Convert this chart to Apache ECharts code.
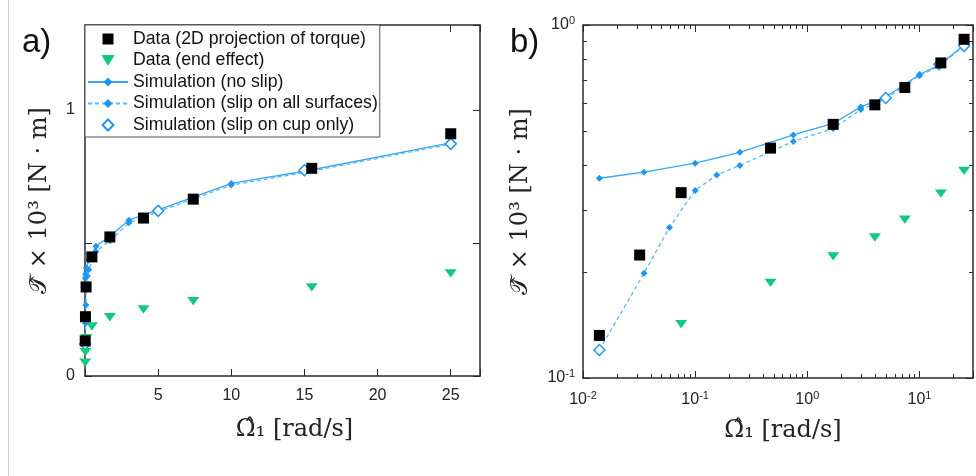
<!DOCTYPE html>
<html><head><meta charset="utf-8">
<script src="https://cdn.jsdelivr.net/npm/echarts@6/dist/echarts.min.js"></script>
<style>html,body{margin:0;padding:0;background:#fff}#c{width:976px;height:476px}</style>
</head><body><div id="c"></div>
<script>
// ---- data ----
const seriesNames = ['Data (2D projection of torque)', 'Data (end effect)', 'Simulation (no slip)', 'Simulation (slip on all surfaces)', 'Simulation (slip on cup only)'];
const dataX = [0.014, 0.032, 0.075, 0.47, 1.7, 4.0, 7.4, 15.5, 25];
const dataTorque = [0.132, 0.223, 0.335, 0.448, 0.523, 0.594, 0.665, 0.781, 0.911];
const endX = [0.014, 0.032, 0.075, 0.47, 1.7, 4.0, 7.4, 15.5, 25];
const endTorque = [0.05, 0.09, 0.142, 0.186, 0.221, 0.25, 0.281, 0.333, 0.386];
const noSlipX = [0.014, 0.035, 0.1, 0.25, 0.75, 1.7, 3, 5, 10, 15, 25];
const noSlipTorque = [0.368, 0.383, 0.406, 0.436, 0.488, 0.526, 0.586, 0.625, 0.724, 0.77, 0.877];
const slipAllX = [0.014, 0.035, 0.059, 0.1, 0.156, 0.25, 0.75, 1.7, 3, 5, 10, 15, 25];
const slipAllTorque = [0.12, 0.198, 0.267, 0.34, 0.376, 0.40, 0.468, 0.509, 0.576, 0.618, 0.718, 0.765, 0.872];
const cupX = [0.014, 5, 15, 25];
const cupTorque = [0.12, 0.621, 0.774, 0.873];
// tick labels
const xLabelsA = [5, 10, 15, 20, 25];
const yLabelsA = [0, 1];
const xExpB = [-2, -1, 0, 1];
const yExpB = [-1, 0];
const minorMantissa = [2, 3, 4, 5, 6, 7, 8, 9];

const zip = (xs, ys) => xs.map((x, i) => [x, ys[i]]);

const C_AXIS = '#2a2a2a';
const C_LINE = '#37a6f5';
const C_DASH = '#5bb9f8';
const C_MARK = '#1f97f0';
const C_GREEN = '#14c882';
const TRI = 'path://M0,0 L12,0 L6,10 Z';
const SQUARE = 'path://M0,0 L10,0 L10,10 L0,10 Z';
const DIAMOND = 'path://M5,0 L10,5 L5,10 L0,5 Z';

const tickFont = {fontFamily: 'Liberation Sans, Arial, sans-serif', fontSize: 16, color: '#222'};
const titleFont = {fontFamily: 'DejaVu Serif, Liberation Serif, serif', fontSize: 24, color: '#222'};

function logLabel(exps) {
  return function (v) {
    const l = Math.log10(v);
    const e = Math.round(l);
    if (Math.abs(l - e) > 1e-6 || exps.indexOf(e) < 0) return '';
    return '{b|10}{s|' + e + '}';
  };
}
const richLog = {
  b: {fontFamily: 'Liberation Sans, Arial, sans-serif', fontSize: 16, color: '#222', lineHeight: 20},
  s: {fontFamily: 'Liberation Sans, Arial, sans-serif', fontSize: 11, color: '#222', lineHeight: 11, verticalAlign: 'top'}
};

function frameAxis(base) {
  return Object.assign({
    axisLine: {show: true, onZero: false, lineStyle: {color: C_AXIS, width: 1.5}},
    axisTick: {show: true, inside: true, length: 7, lineStyle: {color: C_AXIS, width: 1}},
    splitLine: {show: false},
  }, base);
}

const minorXB = [];
xExpB.forEach(d => minorMantissa.forEach(m => { const v = m * Math.pow(10, d); if (v < 29.9) minorXB.push(v); }));
const minorYB = [];
yExpB.slice(0, 1).forEach(d => minorMantissa.forEach(m => minorYB.push(m * Math.pow(10, d))));

function minorTicks(kind) {
  return function (params, api) {
    const cs = params.coordSys;
    const p = api.coord([api.value(0), api.value(1)]);
    const st = {stroke: C_AXIS, lineWidth: 1};
    if (kind === 'x') {
      const x = Math.round(p[0]) + 0.5;
      return {type: 'group', children: [
        {type: 'line', shape: {x1: x, y1: cs.y + cs.height, x2: x, y2: cs.y + cs.height - 4}, style: st},
        {type: 'line', shape: {x1: x, y1: cs.y, x2: x, y2: cs.y + 4}, style: st}
      ]};
    }
    const y = Math.round(p[1]) + 0.5;
    return {type: 'group', children: [
      {type: 'line', shape: {x1: cs.x, y1: y, x2: cs.x + 4, y2: y}, style: st},
      {type: 'line', shape: {x1: cs.x + cs.width, y1: y, x2: cs.x + cs.width - 4, y2: y}, style: st}
    ]};
  };
}

function dataSeries(xi, yi) {
  return [
    {name: seriesNames[2], type: 'line', xAxisIndex: xi, yAxisIndex: yi, data: zip(noSlipX, noSlipTorque),
      symbol: 'diamond', symbolSize: 7, showAllSymbol: true, itemStyle: {color: C_MARK},
      lineStyle: {color: C_LINE, width: 1.3}, z: 3},
    {name: seriesNames[3], type: 'line', xAxisIndex: xi, yAxisIndex: yi, data: zip(slipAllX, slipAllTorque),
      symbol: 'diamond', symbolSize: 7, showAllSymbol: true, itemStyle: {color: C_MARK},
      lineStyle: {color: C_DASH, width: 1.3, type: [4, 3]}, z: 3},
    {name: seriesNames[4], type: 'scatter', xAxisIndex: xi, yAxisIndex: yi, data: zip(cupX, cupTorque),
      symbol: DIAMOND, symbolSize: 11, symbolKeepAspect: true,
      itemStyle: {color: '#fff', borderColor: C_MARK, borderWidth: 1.5, opacity: 1}, z: 4},
    {name: seriesNames[1], type: 'scatter', xAxisIndex: xi, yAxisIndex: yi, data: zip(endX, endTorque),
      symbol: TRI, symbolSize: [12, 10], symbolKeepAspect: true, itemStyle: {color: C_GREEN, opacity: 1}, z: 5},
    {name: seriesNames[0], type: 'scatter', xAxisIndex: xi, yAxisIndex: yi, data: zip(dataX, dataTorque),
      symbol: SQUARE, symbolSize: 11, symbolKeepAspect: true, itemStyle: {color: '#000', opacity: 1}, z: 6}
  ];
}

const option = {
  animation: false,
  backgroundColor: '#fff',
  grid: [
    {left: 85, top: 25, right: 496, bottom: 100},
    {left: 583, top: 25, right: -3, bottom: 98}
  ],
  xAxis: [
    frameAxis({gridIndex: 0, type: 'value', position: 'bottom', min: 0, max: 27, interval: 5,
      axisLabel: Object.assign({margin: 12, formatter: v => xLabelsA.indexOf(v) >= 0 ? String(v) : ''}, tickFont),
      name: 'Ω̂₁ [rad/s]', nameLocation: 'middle', nameGap: 42, nameTextStyle: Object.assign({padding: [0, 0, 0, 24]}, titleFont)}),
    frameAxis({gridIndex: 0, type: 'value', position: 'top', min: 0, max: 27, interval: 5, axisLabel: {show: false}}),
    frameAxis({gridIndex: 1, type: 'log', logBase: 10, position: 'bottom', min: 0.01, max: 30,
      axisLabel: {margin: 12, formatter: logLabel(xExpB), rich: richLog},
      name: 'Ω̂₁ [rad/s]', nameLocation: 'middle', nameGap: 41, nameTextStyle: Object.assign({padding: [0, 0, 0, 10]}, titleFont)}),
    frameAxis({gridIndex: 1, type: 'log', logBase: 10, position: 'top', min: 0.01, max: 30, axisLabel: {show: false}})
  ],
  yAxis: [
    frameAxis({gridIndex: 0, type: 'value', position: 'left', min: 0, max: 1.32, interval: 0.5,
      axisLabel: Object.assign({margin: 10, formatter: v => yLabelsA.indexOf(v) >= 0 ? String(v) : ''}, tickFont),
      name: '𝒯̂ × 10³ [N · m]', nameLocation: 'middle', nameGap: 33, nameRotate: 90, nameTextStyle: titleFont}),
    frameAxis({gridIndex: 0, type: 'value', position: 'right', min: 0, max: 1.32, interval: 0.5, axisLabel: {show: false}}),
    frameAxis({gridIndex: 1, type: 'log', logBase: 10, position: 'left', min: 0.1, max: 1,
      axisLabel: {margin: 8, formatter: logLabel(yExpB), rich: richLog},
      name: '𝒯̂ × 10³ [N · m]', nameLocation: 'middle', nameGap: 50, nameRotate: 90, nameTextStyle: titleFont}),
    frameAxis({gridIndex: 1, type: 'log', logBase: 10, position: 'right', min: 0.1, max: 1, axisLabel: {show: false}})
  ],
  legend: {
    left: 85, top: 25, orient: 'vertical', data: seriesNames, selectedMode: false,
    symbolKeepAspect: true,
    backgroundColor: '#fff', borderColor: '#555', borderWidth: 1, padding: [4, 2, 2, 2],
    itemWidth: 40, itemHeight: 11, itemGap: 1.5,
    textStyle: {fontFamily: 'Liberation Sans, Arial, sans-serif', fontSize: 17.7, color: '#111', lineHeight: 20}
  },
  graphic: [
    {type: 'line', shape: {x1: 8.5, y1: 0, x2: 8.5, y2: 476}, style: {stroke: '#cfcfcf', lineWidth: 1}},
    {type: 'text', left: 22, top: 26, style: {text: 'a)', font: '33px "Liberation Sans", Arial, sans-serif', fill: '#111'}},
    {type: 'text', left: 510, top: 26, style: {text: 'b)', font: '33px "Liberation Sans", Arial, sans-serif', fill: '#111'}}
  ],
  series: [
    ...dataSeries(0, 0),
    ...dataSeries(2, 2),
    {type: 'custom', name: 'minorX', xAxisIndex: 2, yAxisIndex: 2, silent: true, clip: false,
      data: minorXB.map(v => [v, 0.1]), renderItem: minorTicks('x'), z: 2},
    {type: 'custom', name: 'minorY', xAxisIndex: 2, yAxisIndex: 2, silent: true, clip: false,
      data: minorYB.map(v => [0.01, v]), renderItem: minorTicks('y'), z: 2}
  ]
};
const chart = echarts.init(document.getElementById('c'), null, {renderer: 'canvas'});
chart.setOption(option);
</script></body></html>
